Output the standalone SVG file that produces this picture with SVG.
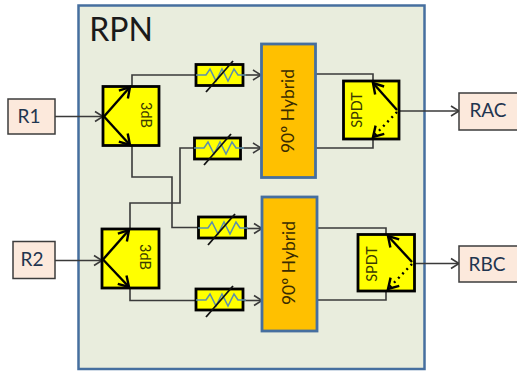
<svg xmlns="http://www.w3.org/2000/svg" width="517" height="371" viewBox="0 0 517 371">
<style>
text{font-family:Lato,"Liberation Sans",sans-serif;fill:#1a1a1a;text-anchor:middle}
.port{fill:#fce9dc;stroke:#3c3c3c;stroke-width:1.5}
.port-t{font-size:19px;fill:#1f3550}
.y{fill:#ffff00;stroke:#000;stroke-width:2.800}
.hyb{fill:#ffc000;stroke:#466f9f;stroke-width:2.800}
.hyb-t{font-size:17.500px;fill:#3a2c00}
.c{fill:none;stroke:#3a3a3a;stroke-width:1.6}
.ca{fill:none;stroke:#3a3a3a;stroke-width:1.6;marker-end:url(#open)}
.in{fill:none;stroke:#000;stroke-width:2.4;marker-end:url(#bold)}
.zig{fill:none;stroke:#5f92a8;stroke-width:1.600}
.sl{fill:none;stroke:#111;stroke-width:1.8}
.small{font-size:14.500px;fill:#3a3a00}
</style>
<defs>
<marker id="open" markerUnits="userSpaceOnUse" markerWidth="14" markerHeight="14" refX="10" refY="7" orient="auto"><path d="M2 2L10 7L2 12" fill="none" stroke="#3a3a3a" stroke-width="1.6"/></marker>
<marker id="bold" markerUnits="userSpaceOnUse" markerWidth="16" markerHeight="16" refX="12" refY="8" orient="auto"><path d="M2 2L12 8L2 14" fill="none" stroke="#000" stroke-width="2.4"/></marker>
<g id="att"><path class="zig" d="M-24 0H-14L-10 -6L-4 6L2 -6L8 6L14 -6L18 0H26"/><path class="sl" d="M-14 17L13 -14"/></g>
</defs>
<g id="rpn"><rect x="78.500" y="5.500" width="346" height="363.500" fill="#e9eddd" stroke="#466f9f" stroke-width="2.500"/><text x="121" y="41" font-size="32">RPN</text></g>
<g id="connectors">
<path class="ca" d="M55 116.500H103"/>
<path class="ca" d="M55 260.500H102"/>
<path class="c" d="M132 86V75H196"/>
<path class="c" d="M132 146V177H172V227.500H198"/>
<path class="c" d="M130 229V203H180V148H194"/>
<path class="c" d="M130 288V300.500H196"/>
<path class="ca" d="M243 75H261"/>
<path class="ca" d="M240 148H261"/>
<path class="ca" d="M245 228.500H262"/>
<path class="ca" d="M243 300.500H262"/>
<path class="c" d="M313 74H373V81"/>
<path class="c" d="M313 148H373V139"/>
<path class="c" d="M317 228H386V234"/>
<path class="c" d="M313 300H386V291"/>
<path class="ca" d="M399 111H459"/>
<path class="ca" d="M415 263.500H459"/>
</g>
<g id="R1"><rect class="port" x="8" y="99" width="47" height="35"/><text class="port-t" x="29" y="123">R1</text></g>
<g id="R2"><rect class="port" x="13" y="241.500" width="42" height="37"/><text class="port-t" x="32" y="266">R2</text></g>
<g id="RAC"><rect class="port" x="459" y="93" width="60" height="37"/><text class="port-t" x="488" y="117">RAC</text></g>
<g id="RBC"><rect class="port" x="459" y="246" width="60" height="36"/><text class="port-t" x="487" y="271">RBC</text></g>
<g id="split1"><rect class="y" x="103" y="86.500" width="56" height="59"/><path class="in" d="M104 116.500L130 87"/><path class="in" d="M104 116.500L130 145"/><text class="small" transform="translate(146 115) rotate(90)" y="5">3dB</text></g>
<g id="split2"><rect class="y" x="102" y="229" width="57" height="59"/><path class="in" d="M103 259.500L129 230"/><path class="in" d="M103 259.500L129 287"/><text class="small" transform="translate(145 257) rotate(90)" y="5">3dB</text></g>
<g id="att1"><rect class="y" x="196" y="64.500" width="47" height="21"/><use href="#att" x="220" y="75"/></g>
<g id="att2"><rect class="y" x="194.500" y="138" width="46" height="21"/><use href="#att" x="218" y="148"/></g>
<g id="att3"><rect class="y" x="198.500" y="217" width="47" height="21"/><use href="#att" x="222" y="228"/></g>
<g id="att4"><rect class="y" x="196" y="289" width="47" height="21"/><use href="#att" x="220" y="300"/></g>
<g id="hybrid1"><rect class="hyb" x="261.500" y="44" width="54" height="133.500"/><text class="hyb-t" transform="translate(288 111) rotate(-90)" y="6">90º Hybrid</text></g>
<g id="hybrid2"><rect class="hyb" x="262" y="197" width="55" height="134"/><text class="hyb-t" transform="translate(289 263) rotate(-90)" y="6">90º Hybrid</text></g>
<g id="spdt1"><rect class="y" x="343.500" y="81" width="55.500" height="58"/><path class="in" d="M397 110L373 83"/><path class="in" stroke-dasharray="2 4" d="M397 112L373 137"/><text class="small" transform="translate(357 110) rotate(-90)" y="5">SPDT</text></g>
<g id="spdt2"><rect class="y" x="358" y="234.500" width="56.500" height="56.500"/><path class="in" d="M412 262L388 236"/><path class="in" stroke-dasharray="2 4" d="M412 264L388 289"/><text class="small" transform="translate(372 264) rotate(-90)" y="5">SPDT</text></g>
</svg>
